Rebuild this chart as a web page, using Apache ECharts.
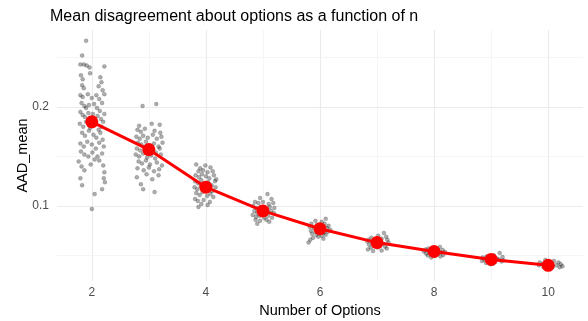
<!DOCTYPE html>
<html>
<head>
<meta charset="utf-8">
<script src="https://cdn.jsdelivr.net/npm/echarts@6/dist/echarts.min.js"></script>
<style>
  html, body { margin: 0; padding: 0; background: #fff; }
  #chart { width: 588px; height: 321px; }
</style>
</head>
<body>
<div id="chart"></div>
<script>
// Number of options (x) and mean AAD per option count
const optionCounts = [2, 3, 4, 5, 6, 7, 8, 9, 10];
const meanAAD = [0.185, 0.157, 0.119, 0.095, 0.077, 0.063, 0.054, 0.046, 0.040];

// Tick labels and grid positions
const xTicks = [2, 4, 6, 8, 10];
const xMinorGrid = [3, 5, 7, 9];
const yTicks = [0.1, 0.2];
const yMinorGrid = [0.05, 0.15, 0.25];

// Individual (jittered) observations per option count: [x, AAD_mean]
const obs2 = [[1.90,0.267],[1.83,0.252],[1.80,0.243],[1.86,0.243],[1.91,0.242],[1.96,0.240],[2.22,0.241],
  [1.81,0.232],[1.84,0.228],[1.97,0.234],[2.15,0.230],[2.17,0.225],
  [1.83,0.222],[1.86,0.219],[2.12,0.221],[2.19,0.217],
  [1.80,0.212],[1.84,0.210],[1.93,0.213],[2.00,0.209],[2.08,0.212],[2.13,0.208],[2.22,0.213],
  [1.82,0.204],[1.87,0.201],[1.90,0.199],[1.95,0.202],[2.04,0.203],[2.09,0.199],[2.18,0.204],[2.14,0.196],
  [1.80,0.195],[1.84,0.192],[1.88,0.190],[1.94,0.194],[2.02,0.193],[2.10,0.191],[2.16,0.188],[2.22,0.193],
  [1.79,0.183],[1.85,0.180],[1.90,0.185],[1.97,0.179],[2.05,0.182],[2.12,0.177],[2.20,0.185],[2.17,0.180],
  [1.83,0.174],[1.88,0.171],[1.95,0.176],[2.03,0.172],[2.08,0.169],[2.15,0.174],[2.19,0.167],
  [1.80,0.163],[1.86,0.160],[1.92,0.165],[2.00,0.162],[2.07,0.158],[2.13,0.164],[2.21,0.160],
  [1.81,0.155],[1.87,0.152],[1.94,0.150],[2.01,0.154],[2.10,0.150],[2.18,0.153],[2.05,0.147],
  [1.77,0.145],[1.82,0.140],[1.98,0.142],[2.13,0.146],[2.20,0.141],
  [1.87,0.136],[2.22,0.134],[2.21,0.128],[1.80,0.128],
  [2.23,0.124],[2.18,0.117],[1.83,0.121],[2.05,0.112],
  [2.00,0.097]];
const obs3 = [[2.89,0.201],[3.13,0.203],
  [3.19,0.182],[2.83,0.181],[3.05,0.183],
  [2.80,0.177],[2.86,0.175],[2.93,0.178],[3.10,0.176],[3.20,0.174],
  [2.78,0.170],[2.84,0.168],[2.90,0.171],[2.98,0.169],[3.07,0.172],[3.14,0.168],[3.22,0.170],
  [2.81,0.164],[2.87,0.162],[2.95,0.165],[3.02,0.161],[3.09,0.163],[3.17,0.160],[3.24,0.164],
  [2.79,0.158],[2.85,0.156],[2.92,0.159],[2.99,0.155],[3.05,0.157],[3.12,0.154],[3.19,0.158],
  [2.77,0.152],[2.83,0.150],[2.90,0.153],[2.97,0.149],[3.04,0.151],[3.11,0.148],[3.21,0.152],
  [2.82,0.145],[2.88,0.143],[2.95,0.146],[3.02,0.142],[3.14,0.144],[3.23,0.141],
  [2.80,0.138],[2.91,0.136],[3.00,0.139],[3.09,0.135],[3.18,0.137],
  [2.79,0.129],[3.17,0.131],[2.96,0.132],[3.06,0.127],
  [2.90,0.117],[3.10,0.114],[2.86,0.122]];
const obs4 = [[3.83,0.142],[3.99,0.141],[3.90,0.138],[4.08,0.139],[3.87,0.135],[3.95,0.136],[4.03,0.134],[4.12,0.135],
  [3.82,0.131],[3.88,0.129],[3.93,0.132],[4.00,0.130],[4.06,0.128],[4.14,0.131],[4.18,0.127],
  [3.81,0.125],[3.86,0.123],[3.92,0.126],[3.97,0.122],[4.04,0.124],[4.10,0.121],[4.16,0.125],
  [3.80,0.119],[3.85,0.117],[3.91,0.120],[3.98,0.116],[4.05,0.118],[4.11,0.115],[4.17,0.119],
  [3.83,0.113],[3.89,0.111],[3.94,0.114],[4.02,0.110],[4.08,0.112],[4.13,0.109],
  [3.81,0.107],[3.86,0.105],[3.96,0.106],[4.07,0.104],[3.87,0.099],[4.03,0.101],[3.92,0.102]];
const obs5 = [[5.08,0.112],[4.95,0.108],[5.15,0.107],[4.86,0.104],[4.92,0.103],[5.00,0.104],[5.10,0.102],[5.18,0.103],
  [4.83,0.100],[4.89,0.098],[4.96,0.099],[5.03,0.097],[5.12,0.099],[5.20,0.098],
  [4.85,0.095],[4.90,0.093],[4.98,0.094],[5.05,0.092],[5.14,0.095],[5.19,0.093],
  [4.82,0.091],[4.88,0.089],[4.94,0.090],[5.02,0.088],[5.09,0.090],[5.16,0.088],
  [4.87,0.086],[4.95,0.085],[5.06,0.086],[4.90,0.082],[5.11,0.084]];
const obs6 = [[6.10,0.087],[5.92,0.085],[6.03,0.084],[5.85,0.082],[5.95,0.081],[6.08,0.082],[6.15,0.080],
  [5.82,0.079],[5.89,0.078],[5.98,0.079],[6.05,0.077],[6.12,0.078],[6.18,0.076],
  [5.84,0.075],[5.92,0.074],[6.00,0.075],[6.07,0.073],[6.14,0.074],
  [5.86,0.072],[5.94,0.071],[6.03,0.070],[6.10,0.071],[5.88,0.068],[5.97,0.069],[6.06,0.067],[5.83,0.066],[5.80,0.063]];
const obs7 = [[7.12,0.0727],[7.02,0.070],[7.16,0.069],[6.90,0.068],[7.08,0.067],[6.85,0.066],[6.95,0.066],[7.04,0.065],[7.18,0.066],
  [6.83,0.064],[6.92,0.063],[7.00,0.064],[7.10,0.062],[7.20,0.063],
  [6.86,0.061],[6.96,0.060],[7.06,0.061],[7.14,0.059],[6.89,0.058],[7.01,0.058],[7.17,0.057],[6.84,0.056],[7.08,0.055],[6.93,0.0545]];
const obs8 = [[8.10,0.0586],[7.90,0.057],[8.05,0.0565],[7.85,0.056],[7.96,0.0555],[8.15,0.0555],[7.82,0.054],[7.92,0.0535],[8.02,0.054],[8.12,0.053],[8.19,0.0535],
  [7.86,0.052],[7.97,0.0515],[8.07,0.052],[8.16,0.0505],[7.89,0.050],[8.01,0.0495],[8.11,0.049],[7.95,0.048]];
const obs9 = [[9.15,0.0525],[9.05,0.050],[8.92,0.049],[9.20,0.0485],[8.85,0.048],[8.98,0.047],[9.10,0.047],[8.88,0.046],[9.02,0.0455],[9.14,0.046],[9.22,0.045],
  [8.84,0.0445],[8.95,0.044],[9.07,0.0435],[9.18,0.044],[8.91,0.0425],[9.04,0.042],[8.99,0.041]];
const obs10 = [[9.95,0.0455],[10.10,0.0445],[9.85,0.043],[10.02,0.0425],[10.18,0.043],[9.90,0.0415],[10.06,0.041],[10.22,0.0412],[10.14,0.040],[9.84,0.040],[9.97,0.0395],[10.25,0.039],[10.08,0.0385],[10.20,0.038],[9.92,0.038],[10.03,0.0375]];

const observations = [].concat(obs2, obs3, obs4, obs5, obs6, obs7, obs8, obs9, obs10);
const meanPoints = optionCounts.map((n, i) => [n, meanAAD[i]]);

const FONT = '"Liberation Sans", Arial, Helvetica, sans-serif';

const majorGrid = { type: 'solid', color: '#ebebeb', width: 1.1 };
const minorGrid = { type: 'solid', color: '#f3f3f3', width: 0.8 };
const gridLines = [].concat(
  xTicks.map(v => ({ xAxis: v, lineStyle: majorGrid })),
  xMinorGrid.map(v => ({ xAxis: v, lineStyle: minorGrid })),
  yTicks.map(v => ({ yAxis: v, lineStyle: majorGrid })),
  yMinorGrid.map(v => ({ yAxis: v, lineStyle: minorGrid }))
);

const chart = echarts.init(document.getElementById('chart'), null, { renderer: 'canvas' });
chart.setOption({
  animation: false,
  backgroundColor: '#ffffff',
  textStyle: { fontFamily: FONT },
  title: {
    text: 'Mean disagreement about options as a function of n',
    left: 45,
    top: 4,
    textStyle: { fontSize: 16, fontWeight: 'normal', color: '#000', fontFamily: FONT }
  },
  grid: { left: 57, right: 5, top: 30, bottom: 40, containLabel: false, outerBoundsMode: 'none' },
  xAxis: {
    type: 'value',
    min: 1.39,
    max: 10.61,
    name: 'Number of Options',
    nameLocation: 'middle',
    nameGap: 21,
    nameTextStyle: { fontSize: 14.5, color: '#000', fontFamily: FONT },
    axisLine: { show: false },
    axisTick: { show: false, customValues: xTicks },
    splitLine: { show: false },
    axisLabel: { customValues: xTicks, color: '#4d4d4d', fontSize: 12, margin: 6, fontFamily: FONT }
  },
  yAxis: {
    type: 'value',
    min: 0.0242,
    max: 0.2778,
    name: 'AAD_mean',
    nameLocation: 'middle',
    nameGap: 27,
    nameMoveOverlap: false,
    nameRotate: 90,
    nameTextStyle: { fontSize: 14.5, color: '#000', fontFamily: FONT },
    axisLine: { show: false },
    axisTick: { show: false, customValues: yTicks },
    splitLine: { show: false },
    axisLabel: { customValues: yTicks, color: '#4d4d4d', fontSize: 12, margin: 8, fontFamily: FONT }
  },
  series: [
    {
      type: 'line',
      data: [],
      silent: true,
      z: 0,
      markLine: {
        silent: true,
        symbol: 'none',
        z: 0,
        animation: false,
        label: { show: false },
        data: gridLines
      }
    },
    {
      type: 'scatter',
      data: observations,
      symbolSize: 4,
      z: 2,
      itemStyle: { color: 'rgba(0,0,0,0.4)', borderColor: 'rgba(0,0,0,0.3)', borderWidth: 0.6 }
    },
    {
      type: 'line',
      data: meanPoints,
      z: 3,
      symbol: 'circle',
      symbolSize: 13,
      showSymbol: true,
      lineStyle: { color: '#ff0000', width: 3 },
      itemStyle: { color: '#ff0000' }
    }
  ]
});
</script>
</body>
</html>
